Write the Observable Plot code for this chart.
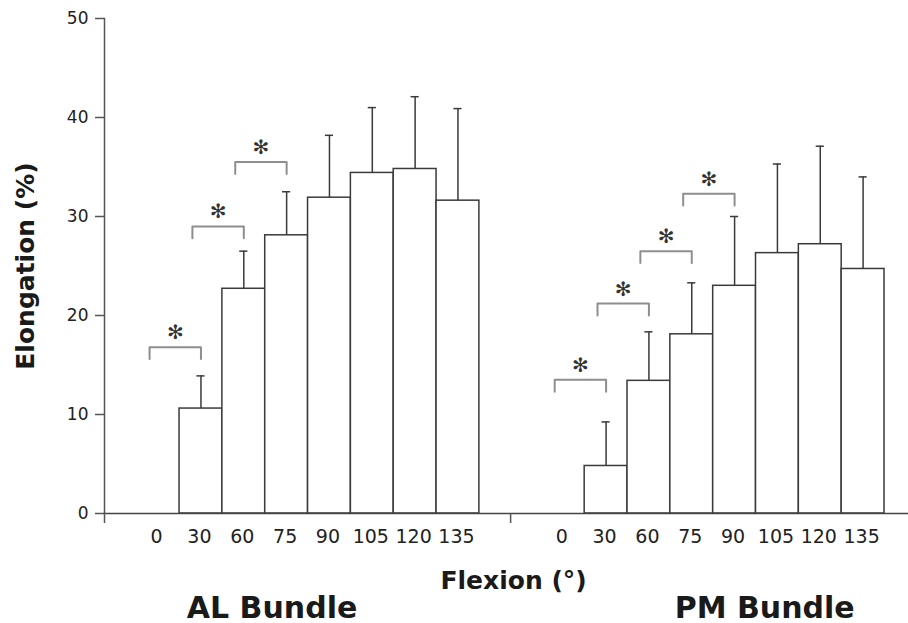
<!DOCTYPE html>
<html><head><meta charset="utf-8">
<script src="https://cdn.jsdelivr.net/npm/d3@7"></script>
<script src="https://cdn.jsdelivr.net/npm/@observablehq/plot@0.6"></script>
<style>html,body{margin:0;padding:0;background:#fff}#chart{width:908px;height:623px}</style>
</head><body><div id="chart"></div>
<script>
// ---- data ----
const angles = ["0", "30", "60", "75", "90", "105", "120", "135"];
const groupNames = ["AL Bundle", "PM Bundle"];
const alMean  = [0, 10.6, 22.7, 28.1, 31.9, 34.4, 34.8, 31.6];
const alUpper = [0, 13.9, 26.5, 32.5, 38.2, 41.0, 42.1, 40.9];
const pmMean  = [0, 4.8, 13.4, 18.1, 23.0, 26.3, 27.2, 24.7];
const pmUpper = [0, 9.25, 18.35, 23.3, 30.0, 35.3, 37.1, 34.0];
// significance brackets between consecutive angles (height of bracket)
const alBracketY = [16.8, 29.0, 35.5];
const pmBracketY = [13.5, 21.2, 26.5, 32.3];
const yTicks = [0, 10, 20, 30, 40, 50];

// ---- layout helpers (in slot units) ----
const GAP = 1.458;
const n = angles.length;
const slot = (g, i) => g * (n + GAP) + i;
const xMin = -0.752;
const xMax = slot(1, n) + 0.56;
const sep = n + GAP / 2;

const means = [alMean, pmMean], uppers = [alUpper, pmUpper];
const rows = [];
means.forEach((m, g) => m.forEach((v, i) => rows.push({g, i, x: slot(g, i), mean: v, upper: uppers[g][i]})));
const bars = rows.filter(d => d.mean > 0);

const brackets = [];
[alBracketY, pmBracketY].forEach((arr, g) => arr.forEach((y, i) =>
  brackets.push({g, i, x1: slot(g, i) + 0.3, x2: slot(g, i + 1) + 0.5, y})));
const LEG = 1.2;
const bracketPts = brackets.flatMap((b, k) => [
  {k, x: b.x1, y: b.y - LEG}, {k, x: b.x1, y: b.y},
  {k, x: b.x2, y: b.y}, {k, x: b.x2, y: b.y - LEG}]);

const tickPos = rows.map(d => d.x + 0.5);
const tickLab = new Map(rows.map(d => [d.x + 0.5, angles[d.i]]));
const groupCenters = groupNames.map((name, g) => ({name, x: (slot(g, 0) + slot(g, n)) / 2}));

const chart = Plot.plot({
  width: 908, height: 623,
  marginLeft: 104, marginRight: 0, marginTop: 18, marginBottom: 110,
  x: {domain: [xMin, xMax], axis: null},
  y: {domain: [0, 50], axis: null},
  style: {fontFamily: "DejaVu Sans", color: "#222", background: "#fff", overflow: "visible"},
  marks: [
    Plot.rectY(bars, {x1: "x", x2: d => d.x + 1, y1: 0, y2: "mean", fill: "white", stroke: "#3a3a3a", strokeWidth: 1.5}),
    Plot.ruleX(bars, {x: d => d.x + 0.5, y1: "mean", y2: "upper", stroke: "#3a3a3a", strokeWidth: 1.5}),
    Plot.ruleY(bars, {y: "upper", x1: d => d.x + 0.5 - 0.095, x2: d => d.x + 0.5 + 0.095, stroke: "#3a3a3a", strokeWidth: 1.5}),
    Plot.line(bracketPts, {x: "x", y: "y", z: "k", stroke: "#8e8e8e", strokeWidth: 2, curve: "linear"}),
    Plot.text(brackets, {x: d => (d.x1 + d.x2) / 2, y: d => d.y + 1.45, text: () => "✻", fontSize: 20, fill: "#333"}),
    Plot.frame({anchor: "left", stroke: "#555", strokeWidth: 1.5}),
    Plot.frame({anchor: "bottom", stroke: "#444", strokeWidth: 1.5}),
    Plot.axisY({ticks: yTicks, tickSize: 9, tickPadding: 7, fontSize: 17, label: null, stroke: "#555", strokeWidth: 1.5}),
    Plot.axisX({ticks: [xMin, sep], tickSize: 10, tickFormat: () => "", label: null, stroke: "#555", strokeWidth: 1.5}),
    Plot.axisX({ticks: tickPos, tickSize: 0, tickPadding: 16, tickFormat: v => tickLab.get(v), fontSize: 19, label: null, dx: -1.5}),
    Plot.text(["Flexion (°)"], {frameAnchor: "bottom", lineAnchor: "middle", textAnchor: "middle", x: () => sep, dx: 3, dy: 67, fontSize: 25, fontWeight: "bold", fill: "#1a1a1a"}),
    Plot.text(groupCenters.slice(0, 1), {frameAnchor: "bottom", lineAnchor: "middle", textAnchor: "middle", x: "x", text: "name", dx: -36, dy: 94.5, fontSize: 30, fontWeight: "bold", fill: "#1a1a1a"}),
    Plot.text(groupCenters.slice(1), {frameAnchor: "bottom", lineAnchor: "middle", textAnchor: "middle", x: "x", text: "name", dx: 51.5, dy: 94.5, fontSize: 30, fontWeight: "bold", fill: "#1a1a1a"}),
    Plot.text(["Elongation (%)"], {frameAnchor: "left", textAnchor: "middle", lineAnchor: "middle", rotate: -90, dx: -78.5, fontSize: 25, fontWeight: "bold", fill: "#1a1a1a"})
  ]
});
document.getElementById("chart").append(chart);
</script>
</body></html>
